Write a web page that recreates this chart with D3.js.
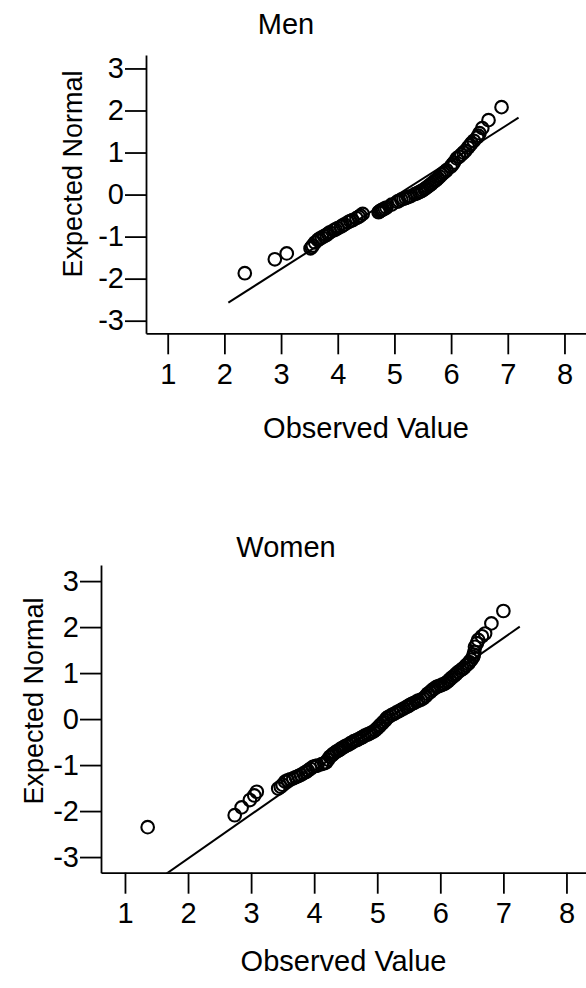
<!DOCTYPE html>
<html lang="en">
	<head>
		<meta charset="utf-8">
		<title>Normal Q-Q plots: Men / Women</title>
		<script type="text/javascript" src="https://cdn.jsdelivr.net/npm/d3@7"></script>
		<style type="text/css">
			body { margin: 0; background: #fff; }
			svg text { font-family: "Liberation Sans", Arial, sans-serif; fill: #000; }
			.axis path, .axis line { fill: none; stroke: #000; stroke-width: 1.8px; }
			.axis text { font-size: 29px; }
		</style>
	</head>
	<body>
		<script type="text/javascript">

			//Tick labels
			var xTicks = [1, 2, 3, 4, 5, 6, 7, 8];
			var yTicks = [-3, -2, -1, 0, 1, 2, 3];

			//Men: observed value / expected normal value (extra overlapping points appended at the end)
			var menObserved = [2.36, 2.89, 3.10, 3.52, 3.56, 3.60, 3.65, 3.72, 3.80, 3.86,
				3.93, 4.00, 4.06, 4.12, 4.18, 4.26, 4.33, 4.40, 4.44, 4.72,
				4.76, 4.80, 4.86, 4.95, 5.05, 5.12, 5.20, 5.28, 5.36, 5.44,
				5.50, 5.56, 5.62, 5.68, 5.74, 5.80, 5.86, 5.92, 5.99, 6.05,
				6.10, 6.18, 6.25, 6.30, 6.36, 6.46, 6.50, 6.55, 6.66, 6.89,
				3.54, 3.68, 3.76, 3.83, 3.96, 4.09, 4.22, 4.37, 4.74, 4.78,
				4.83, 5.08, 5.16, 5.24, 5.40, 5.47, 5.53, 5.59, 5.65, 5.71,
				5.77, 5.83, 5.89, 6.02, 6.14, 6.22, 6.33, 6.40, 6.48];
			var menExpected = [-1.87, -1.54, -1.40, -1.28, -1.21, -1.14, -1.08, -1.02, -0.96, -0.90,
				-0.85, -0.80, -0.76, -0.71, -0.66, -0.61, -0.56, -0.50, -0.46, -0.42,
				-0.38, -0.35, -0.31, -0.24, -0.17, -0.12, -0.08, -0.04, 0.01, 0.06,
				0.10, 0.16, 0.22, 0.29, 0.35, 0.43, 0.51, 0.58, 0.66, 0.76,
				0.86, 0.95, 1.04, 1.12, 1.22, 1.36, 1.46, 1.58, 1.77, 2.08,
				-1.25, -1.05, -0.99, -0.93, -0.83, -0.73, -0.63, -0.53, -0.40, -0.37,
				-0.33, -0.15, -0.10, -0.06, 0.03, 0.08, 0.13, 0.19, 0.25, 0.32,
				0.39, 0.47, 0.54, 0.71, 0.90, 1.00, 1.17, 1.28, 1.40];
			var menLineX = [2.07, 7.19];
			var menLineY = [-2.57, 1.83];

			//Women: observed value / expected normal value (extra overlapping points appended at the end)
			var womenObserved = [1.36, 2.74, 2.85, 2.98, 3.05, 3.09, 3.43, 3.50, 3.54, 3.62,
				3.67, 3.75, 3.83, 3.90, 3.98, 4.05, 4.12, 4.19, 4.25, 4.30,
				4.36, 4.41, 4.47, 4.54, 4.60, 4.67, 4.74, 4.80, 4.87, 4.94,
				5.00, 5.05, 5.10, 5.15, 5.22, 5.30, 5.38, 5.46, 5.52, 5.58,
				5.65, 5.73, 5.80, 5.87, 5.94, 6.00, 6.06, 6.12, 6.18, 6.25,
				6.32, 6.38, 6.41, 6.46, 6.52, 6.54, 6.55, 6.60, 6.71, 6.81, 7.00,
				3.47, 3.58, 3.71, 3.79, 3.87, 3.94, 4.02, 4.16, 4.22, 4.28,
				4.33, 4.39, 4.44, 4.50, 4.57, 4.63, 4.70, 4.77, 4.84, 4.90,
				4.97, 5.03, 5.08, 5.13, 5.18, 5.26, 5.34, 5.42, 5.49, 5.55,
				5.62, 5.69, 5.77, 5.84, 5.90, 5.97, 6.03, 6.09, 6.15, 6.22,
				6.28, 6.35, 6.44, 6.49, 6.53, 6.58, 6.66];
			var womenExpected = [-2.35, -2.09, -1.92, -1.76, -1.66, -1.58, -1.51, -1.43, -1.36, -1.31,
				-1.29, -1.24, -1.18, -1.12, -1.04, -1.01, -0.98, -0.94, -0.82, -0.76,
				-0.70, -0.66, -0.61, -0.56, -0.51, -0.46, -0.41, -0.36, -0.32, -0.27,
				-0.20, -0.13, -0.06, 0.02, 0.08, 0.14, 0.20, 0.26, 0.31, 0.35,
				0.40, 0.45, 0.55, 0.63, 0.70, 0.73, 0.76, 0.82, 0.90, 0.98,
				1.06, 1.12, 1.17, 1.24, 1.35, 1.46, 1.57, 1.72, 1.86, 2.08, 2.35,
				-1.47, -1.33, -1.26, -1.21, -1.15, -1.08, -1.02, -0.96, -0.88, -0.79,
				-0.73, -0.68, -0.63, -0.58, -0.53, -0.48, -0.44, -0.39, -0.34, -0.30,
				-0.24, -0.16, -0.09, -0.02, 0.05, 0.11, 0.17, 0.23, 0.28, 0.33,
				0.38, 0.42, 0.50, 0.59, 0.66, 0.71, 0.75, 0.79, 0.86, 0.94,
				1.02, 1.09, 1.20, 1.29, 1.40, 1.65, 1.80];
			var womenLineX = [1.2, 7.26];
			var womenLineY = [-3.8, 2.01];

			var w = 586;
			var h = 988;

			var svg = d3.select("body")
						.append("svg")
						.attr("width", w)
						.attr("height", h);

			//One Q-Q panel
			function drawPanel(p) {
				var xScale = d3.scaleLinear()
								.domain(p.xDomain)
								.range([p.left, w]);
				var yScale = d3.scaleLinear()
								.domain(p.yDomain)
								.range([p.bottom, p.top]);

				var g = svg.append("g");

				var clipId = "clip" + p.id;
				g.append("clipPath")
					.attr("id", clipId)
					.append("rect")
					.attr("x", p.left)
					.attr("y", p.top)
					.attr("width", w - p.left)
					.attr("height", p.bottom - p.top);

				//Reference line
				g.append("line")
					.attr("clip-path", "url(#" + clipId + ")")
					.attr("x1", xScale(p.lineX[0]))
					.attr("y1", yScale(p.lineY[0]))
					.attr("x2", xScale(p.lineX[1]))
					.attr("y2", yScale(p.lineY[1]))
					.attr("stroke", "#000")
					.attr("stroke-width", 2);

				//Points
				g.selectAll("circle")
					.data(p.obs)
					.enter()
					.append("circle")
					.attr("cx", function(d) { return xScale(d); })
					.attr("cy", function(d, i) { return yScale(p.exp[i]); })
					.attr("r", 6.3)
					.attr("fill", "none")
					.attr("stroke", "#000")
					.attr("stroke-width", 2.1);

				var xAxis = d3.axisBottom(xScale)
								.tickValues(xTicks)
								.tickFormat(function(d) { return String(d); })
								.tickSizeInner(21)
								.tickSizeOuter(0)
								.tickPadding(9);
				var yAxis = d3.axisLeft(yScale)
								.tickValues(yTicks)
								.tickFormat(function(d) { return String(d); })
								.tickSizeInner(21)
								.tickSizeOuter(0)
								.tickPadding(1);

				g.append("g")
					.attr("class", "axis")
					.attr("transform", "translate(0," + p.bottom + ")")
					.call(xAxis)
					.selectAll("text").attr("font-family", null).attr("font-size", null);

				g.append("g")
					.attr("class", "axis")
					.attr("transform", "translate(" + p.left + ",0)")
					.call(yAxis)
					.selectAll("text").attr("font-family", null).attr("font-size", null);

				//Title
				g.append("text")
					.attr("x", 286)
					.attr("y", p.titleY)
					.attr("text-anchor", "middle")
					.attr("font-size", "29px")
					.text(p.title);

				//x-axis label
				g.append("text")
					.attr("x", (p.left + w) / 2)
					.attr("y", p.xLabelY)
					.attr("text-anchor", "middle")
					.attr("font-size", "29px")
					.text("Observed Value");

				//y-axis label
				g.append("text")
					.attr("transform", "translate(" + p.yLabelX + "," + p.yLabelMid + ") rotate(-90)")
					.attr("text-anchor", "middle")
					.attr("font-size", "27px")
					.text("Expected Normal");
			}

			drawPanel({
				id: "men", title: "Men",
				obs: menObserved, exp: menExpected, lineX: menLineX, lineY: menLineY,
				xDomain: [0.617, 8.38], yDomain: [-3.3, 3.32],
				left: 146, top: 55, bottom: 333.3,
				titleY: 34, xLabelY: 438, yLabelX: 82, yLabelMid: 174
			});

			drawPanel({
				id: "women", title: "Women",
				obs: womenObserved, exp: womenExpected, lineX: womenLineX, lineY: womenLineY,
				xDomain: [0.62, 8.31], yDomain: [-3.34, 3.35],
				left: 101, top: 565, bottom: 872.7,
				titleY: 557, xLabelY: 971, yLabelX: 43, yLabelMid: 701
			});

		</script>
	</body>
</html>
